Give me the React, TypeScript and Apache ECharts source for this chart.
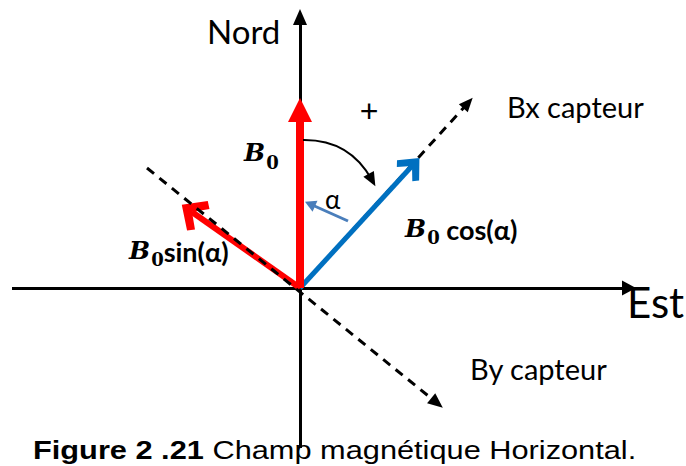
import React, { useEffect, useRef } from "react";
import * as echarts from "echarts";

// Diagram coordinates: origin at the crossing of the two axes, y pointing North.
const xRange = [-300, 386];
const yRange = [-178, 288];

const eastAxisLine = [[-288, 0], [329, 0]];
const northAxisLine = [[0, -160], [0, 271]];
const b0Vector = [[0, 0], [0, 178]];
const b0SinVector = [[0, 0], [-108, 76]];
const b0CosVector = [[0, 0], [112, 122]];
const bxSensorAxis = [[0, 0], [168, 185]];
const bySensorAxis = [[-153, 120], [137, -115]];
const rotationArc = [[3, 148], [72, 108]];
const alphaPointer = [[48, 67], [10, 84]];

const CHEVRON = "path://M50,0 L100,52 L85,68 L50,34 L15,68 L0,52 Z";

type ArrowOpts = { dash?: number[]; curveness?: number };

function arrow(
  coords: number[][],
  color: string,
  width: number,
  symbol: string,
  size: number[],
  opts: ArrowOpts = {}
) {
  return {
    type: "lines",
    coordinateSystem: "cartesian2d",
    polyline: false,
    silent: true,
    symbol: ["none", symbol],
    symbolSize: [0, size],
    lineStyle: {
      color,
      width,
      opacity: 1,
      type: opts.dash ?? "solid",
      curveness: opts.curveness ?? 0,
      cap: "butt",
    },
    data: [{ coords }],
  };
}

const B_STYLE = {
  fontFamily: "DejaVu Serif",
  fontStyle: "italic",
  fontWeight: "bold",
  fontSize: 25,
  lineHeight: 26,
  verticalAlign: "top",
  fill: "#000",
};
const SUB_STYLE = {
  fontFamily: "DejaVu Serif",
  fontWeight: "bold",
  fontSize: 18,
  lineHeight: 18,
  padding: [13, 0, 0, 1],
  verticalAlign: "top",
  fill: "#000",
};
const FN_STYLE = {
  fontFamily: "Lato, 'Noto Sans', sans-serif",
  fontWeight: "bold",
  fontSize: 27,
  lineHeight: 27,
  verticalAlign: "top",
  fill: "#000",
};

function label(x: number, y: number, text: string, fontSize: number, extra: any = {}) {
  return {
    type: "text",
    x,
    y,
    silent: true,
    ...extra.el,
    style: {
      text,
      fontFamily: "Lato, 'Noto Sans', sans-serif",
      fontSize,
      fill: "#000",
      align: "left",
      verticalAlign: "middle",
      textAlign: "left",
      textVerticalAlign: "middle",
      ...extra.style,
    },
  };
}

export default function App() {
  const ref = useRef<HTMLDivElement>(null);
  useEffect(() => {
    if (!ref.current) return;
    const chart = echarts.init(ref.current, undefined, { renderer: "svg" });
    chart.setOption({
      animation: false,
      backgroundColor: "#ffffff",
      grid: { left: 0, right: 0, top: 0, bottom: 0, containLabel: false },
      xAxis: { type: "value", min: xRange[0], max: xRange[1], show: false },
      yAxis: { type: "value", min: yRange[0], max: yRange[1], show: false },
      series: [
        arrow(eastAxisLine, "#000", 3, "triangle", [15, 14]),
        arrow(northAxisLine, "#000", 3, "triangle", [14, 16]),
        arrow(bxSensorAxis, "#000", 3, "triangle", [12, 14], { dash: [9, 7] }),
        arrow(b0CosVector, "#0070C0", 5, CHEVRON, [30, 22]),
        arrow(b0Vector, "#FF0000", 8, "triangle", [24, 24]),
        arrow(b0SinVector, "#FF0000", 6, CHEVRON, [36, 25]),
        arrow(bySensorAxis, "#000", 3, "triangle", [13, 15], { dash: [9, 7] }),
        arrow(rotationArc, "#000", 2, "triangle", [12, 14], { curveness: 0.3 }),
        arrow(alphaPointer, "#4A7EBB", 3, "triangle", [12, 11]),
      ],
      graphic: [
        label(207, 31, "Nord", 33),
        label(507, 106, "Bx capteur", 29),
        label(470, 368, "By capteur", 29),
        label(627, 302, "Est", 42),
        label(369, 111, "+", 32, {
          style: { fontFamily: "'Liberation Sans', sans-serif", align: "center", textAlign: "center" },
        }),
        label(325, 199, "α", 26),
        label(244, 153, "{B|B}{s|0}", 25, {
          style: { rich: { B: B_STYLE, s: SUB_STYLE } },
        }),
        label(405, 229, "{B|B}{s|0}{t| cos(α)}", 25, {
          style: { rich: { B: B_STYLE, s: SUB_STYLE, t: FN_STYLE } },
        }),
        label(129, 251, "{B|B}{s|0}{t|sin(α)}", 25, {
          style: { rich: { B: B_STYLE, s: SUB_STYLE, t: FN_STYLE } },
        }),
        label(33, 451, "{b|Figure 2 .21} Champ magnétique Horizontal.", 25, {
          el: { scaleX: 1.23 },
          style: {
            fontFamily: "'Liberation Sans', Arial, sans-serif",
            rich: {
              b: {
                fontFamily: "'Liberation Sans', Arial, sans-serif",
                fontWeight: "bold",
                fontSize: 25,
                fill: "#000",
              },
            },
          },
        }),
      ],
    });
    return () => chart.dispose();
  }, []);
  return (
    <div
      ref={ref}
      style={{ position: "absolute", left: 0, top: 0, width: 686, height: 466, background: "#fff" }}
    />
  );
}
